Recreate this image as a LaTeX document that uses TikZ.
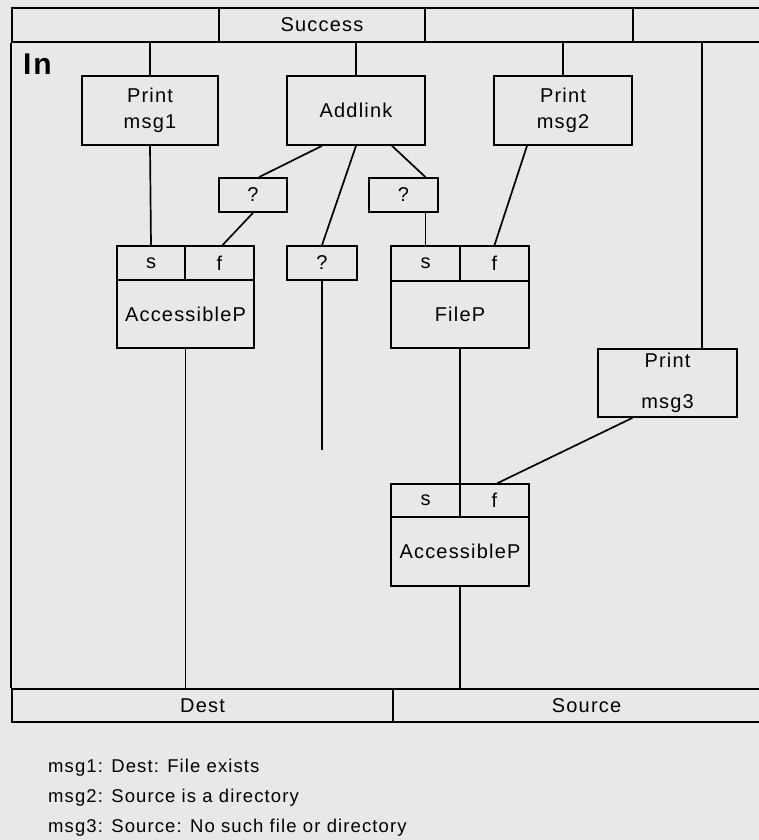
\documentclass[tikz,border=0pt]{standalone}
\usepackage{fontspec}
\setmainfont{Liberation Sans}[LetterSpace=6]
\definecolor{paper}{gray}{0.91}

\begin{document}
\begin{tikzpicture}[x=1pt,y=-1pt,line width=1.7pt,
  font=\fontsize{20}{26}\selectfont,
  cell/.style={draw,inner sep=0pt,minimum height=34pt},
  pbox/.style={draw,inner sep=0pt,minimum height=69pt,minimum width=138pt,align=center}]
\clip (0,0) rectangle (759,840);
\fill[paper] (0,0) rectangle (759,840);

% top and bottom bars
\foreach \n/\cx/\w/\t in {1/115.5/207/{},2/322/206/Success,3/529/208/{},4/706.5/147/{}}
  \node[cell,minimum width=\w pt] (bar\n) at (\cx,25) {\t};
\node[cell,minimum width=381pt,minimum height=33pt] (dest) at (202.5,705.5) {Dest};
\node[cell,minimum width=387pt,minimum height=33pt] (source) at (586.5,705.5) {Source};
\draw (bar1.south west) -- (dest.north west);
\node[anchor=west,font=\bfseries\fontsize{30}{30}\selectfont] (inlbl) at (19,64) {In};

% actions
\node[pbox,minimum width=136pt] (msg1) at (150,110.5) {Print\\msg1};
\node[pbox] (add) at (356,110.5) {Addlink};
\node[pbox] (msg2) at (563,110.5) {Print\\msg2};
\node[pbox,minimum width=139pt,minimum height=68pt] (msg3) at (667.5,383) {Print\\[15pt]msg3};

% unknowns
\node[cell,minimum width=68pt] (q1) at (253,195) {?};
\node[cell,minimum width=70pt] (q2) at (322,263) {?};
\node[cell,minimum width=69pt] (q3) at (403.5,195) {?};
\coordinate (qend) at (322,450);

% predicates
\node[cell,minimum width=68pt] (acc1s) at (151,263) {s};
\node[cell,minimum width=69pt] (acc1f) at (219.5,263) {f};
\node[cell,minimum width=137pt,minimum height=68pt] (acc1) at (185.5,314) {AccessibleP};
\node[cell,minimum width=69pt,minimum height=35pt] (files) at (425.5,263.5) {s};
\node[cell,minimum width=69pt,minimum height=35pt] (filef) at (494.5,263.5) {f};
\node[cell,minimum width=138pt,minimum height=67pt] (filep) at (460,314.5) {FileP};
\node[cell,minimum width=69pt,minimum height=33pt] (acc2s) at (425.5,500.5) {s};
\node[cell,minimum width=69pt,minimum height=33pt] (acc2f) at (494.5,500.5) {f};
\node[cell,minimum width=138pt,minimum height=69pt] (acc2) at (460,551.5) {AccessibleP};

% connectors
\draw (msg1.north) -- (msg1.north |- bar1.south);
\draw (add.north) -- (add.north |- bar2.south);
\draw (msg2.north) -- (msg2.north |- bar3.south);
\draw ([xshift=34.5pt]msg3.north) -- ([xshift=34.5pt]msg3.north |- bar4.south);
\draw (msg1.south) -- (acc1s.north);
\draw ([xshift=-34pt]add.south) -- ([xshift=6pt]q1.north);
\draw (q1.south) -- ([xshift=3pt]acc1f.north);
\draw (add.south) -- (q2.north);
\draw (q2.south) -- (qend);
\draw ([xshift=36pt]add.south) -- (q3.north -| files.north);
\draw (q3.south -| files.north) -- (files.north);
\draw ([xshift=-36pt]msg2.south) -- (filef.north);
\draw (filep.south) -- (acc2s.north -| filep.south);
\draw ([xshift=-35pt]msg3.south) -- ([xshift=3pt]acc2f.north);
\draw (acc1.south) -- (acc1.south |- dest.north);
\draw (acc2.south) -- (source.north -| acc2.south);

% notes
\foreach \n/\y/\t in {1/768/{msg1: Dest: File exists},2/798/{msg2: Source is a directory},
  3/828/{msg3: Source: No such file or directory}}
  \node[anchor=west,font=\fontsize{18.5}{24}\selectfont] (note\n) at (44,\y) {\t};
\end{tikzpicture}
\end{document}
